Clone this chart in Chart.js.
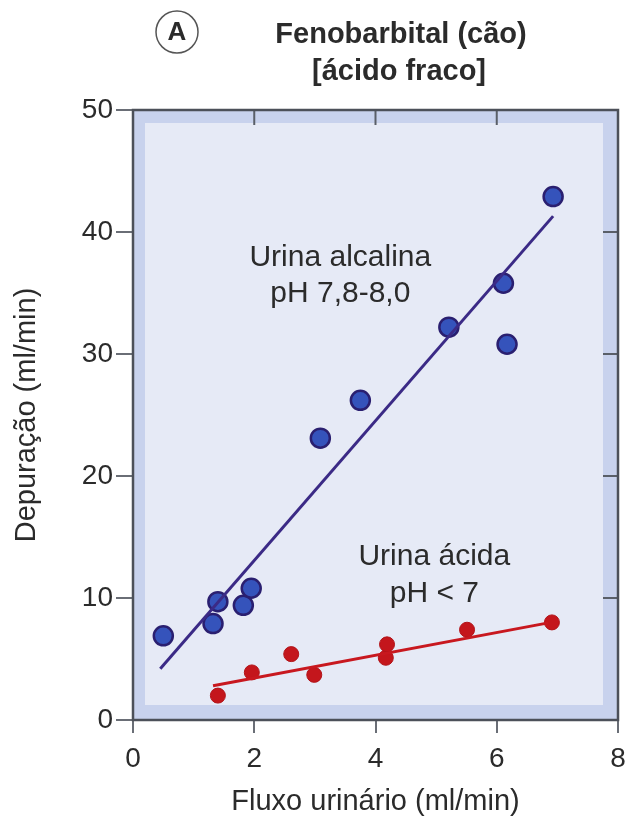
<!DOCTYPE html>
<html>
<head>
<meta charset="utf-8">
<script src="https://cdn.jsdelivr.net/npm/chart.js@4.4.0/dist/chart.umd.min.js"></script>
<style>
  html, body { margin: 0; padding: 0; background: #fff; }
</style>
</head>
<body>
<canvas id="chart" width="627" height="820"></canvas>
<script>
// values
const xTicks = [0, 2, 4, 6, 8];
const yTicks = [0, 10, 20, 30, 40, 50];

// alkaline urine, pH 7.8-8.0
const alkFlow = [0.50, 1.32, 1.40, 1.82, 1.95, 3.09, 3.75, 5.21, 6.11, 6.17, 6.93];
const alkClear = [6.9, 7.9, 9.7, 9.4, 10.8, 23.1, 26.2, 32.2, 35.8, 30.8, 42.9];
const alkFitX = [0.45, 6.93];
const alkFitY = [4.2, 41.3];

// acid urine, pH < 7
const acidFlow = [1.40, 1.96, 2.61, 2.99, 4.17, 4.19, 5.51, 6.91];
const acidClear = [2.0, 3.9, 5.4, 3.7, 5.1, 6.2, 7.4, 8.0];
const acidFitX = [1.32, 6.85];
const acidFitY = [2.8, 7.96];

const FONT = "'Liberation Sans', Arial, sans-serif";
const TEXT = '#2b2b2b';

const pts = (xs, ys) => xs.map((x, i) => ({ x, y: ys[i] }));

const framePlugin = {
  id: 'frame',
  beforeDatasetsDraw(chart) {
    const { ctx, chartArea: a, scales } = chart;
    ctx.save();
    ctx.fillStyle = '#c8d2ed';
    ctx.fillRect(a.left, a.top, a.right - a.left, a.bottom - a.top);
    ctx.fillStyle = '#e6eaf6';
    ctx.fillRect(a.left + 12, a.top + 13, a.right - a.left - 27, a.bottom - a.top - 28);

    // inner ticks on top and right edges
    ctx.strokeStyle = '#5a5f68';
    ctx.lineWidth = 2;
    ctx.beginPath();
    xTicks.slice(1, -1).forEach(v => {
      const px = scales.x.getPixelForValue(v);
      ctx.moveTo(px, a.top);
      ctx.lineTo(px, a.top + 15);
    });
    yTicks.slice(1, -1).forEach(v => {
      const py = scales.y.getPixelForValue(v);
      ctx.moveTo(a.right, py);
      ctx.lineTo(a.right - 15, py);
    });
    ctx.stroke();

    ctx.strokeStyle = '#4c5059';
    ctx.lineWidth = 2.5;
    ctx.strokeRect(a.left, a.top, a.right - a.left, a.bottom - a.top);
    ctx.restore();
  },
  afterDatasetsDraw(chart) {
    const { ctx, scales } = chart;
    const sx = scales.x, sy = scales.y;
    ctx.save();
    ctx.fillStyle = TEXT;
    ctx.textAlign = 'center';
    ctx.textBaseline = 'alphabetic';
    ctx.font = `30px ${FONT}`;
    ctx.fillText('Urina alcalina', sx.getPixelForValue(3.42), sy.getPixelForValue(37.2));
    ctx.fillText('pH 7,8-8,0', sx.getPixelForValue(3.42), sy.getPixelForValue(34.3));
    ctx.fillText('Urina ácida', sx.getPixelForValue(4.97), sy.getPixelForValue(12.7));
    ctx.fillText('pH < 7', sx.getPixelForValue(4.97), sy.getPixelForValue(9.7));
    ctx.restore();
  },
  afterDraw(chart) {
    const { ctx } = chart;
    ctx.save();
    ctx.fillStyle = TEXT;
    ctx.textAlign = 'center';
    ctx.font = `bold 29px ${FONT}`;
    ctx.fillText('Fenobarbital (cão)', 401, 43);
    ctx.fillText('[ácido fraco]', 399, 80);

    ctx.beginPath();
    ctx.arc(177, 32, 21, 0, Math.PI * 2);
    ctx.fillStyle = '#fff';
    ctx.fill();
    ctx.strokeStyle = '#555';
    ctx.lineWidth = 1.5;
    ctx.stroke();
    ctx.fillStyle = TEXT;
    ctx.font = `bold 26px ${FONT}`;
    ctx.textBaseline = 'middle';
    ctx.fillText('A', 177, 33);
    ctx.restore();
  }
};

new Chart(document.getElementById('chart'), {
  type: 'scatter',
  data: {
    datasets: [
      {
        data: pts(alkFitX, alkFitY),
        showLine: true,
        borderColor: '#3b2a86',
        borderWidth: 3,
        pointRadius: 0
      },
      {
        data: pts(acidFitX, acidFitY),
        showLine: true,
        borderColor: '#c8181f',
        borderWidth: 3,
        pointRadius: 0
      },
      {
        data: pts(alkFlow, alkClear),
        pointRadius: 9.5,
        backgroundColor: '#3553bb',
        borderColor: '#2a1f70',
        borderWidth: 2.5
      },
      {
        data: pts(acidFlow, acidClear),
        pointRadius: 7.5,
        backgroundColor: '#c4161c',
        borderColor: '#b21419',
        borderWidth: 1
      }
    ]
  },
  options: {
    responsive: false,
    animation: false,
    layout: { autoPadding: false, padding: { left: 0, top: 110, right: 9, bottom: 0 } },
    plugins: {
      legend: { display: false },
      tooltip: { enabled: false }
    },
    scales: {
      x: {
        type: 'linear',
        min: 0,
        max: 8,
        afterBuildTicks: s => { s.ticks = xTicks.map(v => ({ value: v })); },
        afterFit: s => {
          s.height = 100;
          s.paddingLeft = 0;
          s.paddingRight = 0;
        },
        border: { display: false },
        grid: { drawOnChartArea: false, tickLength: 13, color: '#6a6e76', lineWidth: 2 },
        ticks: { color: TEXT, font: { family: FONT, size: 28 }, padding: 9 },
        title: {
          display: true,
          text: 'Fluxo urinário (ml/min)',
          color: TEXT,
          font: { family: FONT, size: 29 },
          padding: { top: 0, bottom: 1 }
        }
      },
      y: {
        type: 'linear',
        min: 0,
        max: 50,
        afterBuildTicks: s => { s.ticks = yTicks.map(v => ({ value: v })); },
        afterFit: s => { s.width = 133; },
        border: { display: false },
        grid: { drawOnChartArea: false, tickLength: 17, color: '#6a6e76', lineWidth: 2 },
        ticks: { color: TEXT, font: { family: FONT, size: 28 }, padding: 3 },
        title: {
          display: true,
          text: 'Depuração (ml/min)',
          color: TEXT,
          font: { family: FONT, size: 29 },
          padding: { top: 10, bottom: 0 }
        }
      }
    }
  },
  plugins: [framePlugin]
});
</script>
</body>
</html>
